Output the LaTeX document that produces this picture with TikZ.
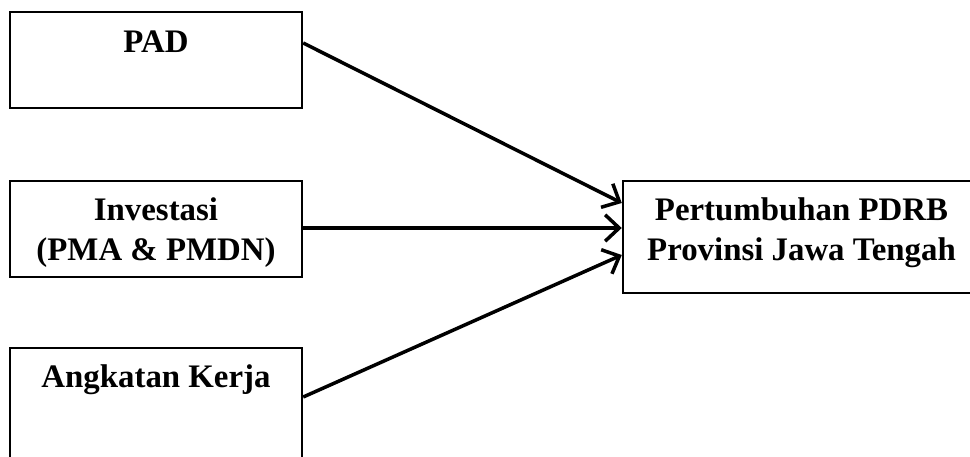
\documentclass[tikz,border=0pt]{standalone}
\usepackage{fontspec}
\setmainfont{Liberation Serif}
\usepackage{tikz}
\usetikzlibrary{arrows.meta}
\usetikzlibrary{positioning}

\tikzset{
  varbox/.style={draw=black,line width=1.4pt,inner sep=0pt},
  varlbl/.style={align=center,font=\bfseries\fontsize{18.7}{22.7}\selectfont},
  varflow/.style={line width=2pt,-{Straight Barb[length=8pt,width=15pt,line width=2pt]}}
}

\begin{document}
\begin{tikzpicture}
    \useasboundingbox (0,0) rectangle (19.4,9.12);
    \clip (0,0) rectangle (19.4,9.12);
    % independent variables
    \node[varbox,minimum width=5.84cm,minimum height=1.92cm] (pad) at (3.12,7.92) {};
    \node[varlbl] (padlbl) at ([yshift=0.36cm]pad.center) {PAD};
    %
    \node[varbox,minimum width=5.84cm,minimum height=1.92cm] (inv) at (3.12,4.54) {};
    \node[varlbl] (invlbl) at ([yshift=-0.08cm]inv.center) {Investasi\\(PMA \& PMDN)};
    %
    \node[varbox,minimum width=5.84cm,minimum height=2.24cm] (ak) at (3.12,1.04) {};
    \node[varlbl] (aklbl) at ([yshift=0.48cm]ak.center) {Angkatan Kerja};
    % dependent variable
    \node[varbox,minimum width=7.14cm,minimum height=2.24cm] (pdrb) at (16.03,4.38) {};
    \node[varlbl] (pdrblbl) at ([yshift=0.08cm]pdrb.center) {Pertumbuhan PDRB\\Provinsi Jawa Tengah};
    % arrows
    \draw[varflow] ([yshift=0.34cm]pad.east) -- ([yshift=0.68cm]pdrb.west);
    \draw[varflow] ([yshift=0.02cm]inv.east) -- ([yshift=0.18cm]pdrb.west);
    \draw[varflow] ([yshift=0.14cm]ak.east) -- ([yshift=-0.36cm]pdrb.west);
\end{tikzpicture}
\end{document}
